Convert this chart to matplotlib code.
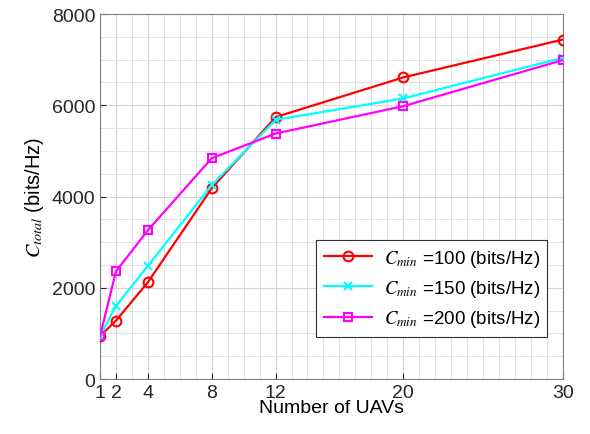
import matplotlib
matplotlib.use("Agg")
import matplotlib.pyplot as plt
from matplotlib.ticker import MultipleLocator

plt.rcParams['font.family'] = ['Liberation Sans', 'DejaVu Sans']
plt.rcParams['mathtext.fontset'] = 'stix'

num_uavs = [1, 2, 4, 8, 12, 20, 30]
c100 = [940, 1280, 2120, 4180, 5740, 6610, 7440]
c150 = [940, 1600, 2480, 4250, 5680, 6150, 7040]
c200 = [940, 2360, 3260, 4840, 5380, 5980, 6990]
labels = [r'$C_{min}$ =100 (bits/Hz)', r'$C_{min}$ =150 (bits/Hz)', r'$C_{min}$ =200 (bits/Hz)']
xticks = [1, 2, 4, 8, 12, 20, 30]
yticks = [0, 2000, 4000, 6000, 8000]

fig = plt.figure(figsize=(5.9, 4.35), dpi=100)
ax = fig.add_axes([0.1695, 0.1264, 0.7845, 0.8391])

ax.plot(num_uavs, c100, color='#ff0000', marker='o', markersize=7, markerfacecolor='none',
        markeredgewidth=1.5, linewidth=1.6, label=labels[0], zorder=3)
ax.plot(num_uavs, c150, color='#00ffff', marker='x', markersize=6,
        markeredgewidth=1.5, linewidth=1.6, label=labels[1], zorder=3)
ax.plot(num_uavs, c200, color='#ff00ff', marker='s', markersize=6, markerfacecolor='none',
        markeredgewidth=1.5, linewidth=1.6, label=labels[2], zorder=3)

ax.set_xlim(1, 30)
ax.set_ylim(0, 8000)
ax.set_xticks(xticks)
ax.set_yticks(yticks)
ax.xaxis.set_minor_locator(MultipleLocator(1))
ax.yaxis.set_minor_locator(MultipleLocator(500))
ax.grid(which='major', color='#d4d4d4', linewidth=0.8)
ax.grid(which='minor', color='#e2e2e2', linewidth=0.7)
ax.set_axisbelow(True)
ax.tick_params(which='both', direction='in', top=False, right=False, labelsize=14, colors='#262626')
ax.tick_params(which='minor', length=0)
ax.tick_params(which='major', length=4)
for s in ax.spines.values():
    s.set_color('#808080')
    s.set_linewidth(0.8)

ax.set_xlabel('Number of UAVs', fontsize=14, labelpad=-1)
ax.set_ylabel(r'$C_{total}$ (bits/Hz)', fontsize=14.5, labelpad=4)

leg = ax.legend(loc='lower right', bbox_to_anchor=(0.987, 0.09), fontsize=13.5, fancybox=False,
                framealpha=1, edgecolor='#303030', handlelength=2.6, borderpad=0.4, labelspacing=0.5,
                handletextpad=0.6)
leg.get_frame().set_linewidth(0.8)

fig.savefig('out.png', dpi=100)
